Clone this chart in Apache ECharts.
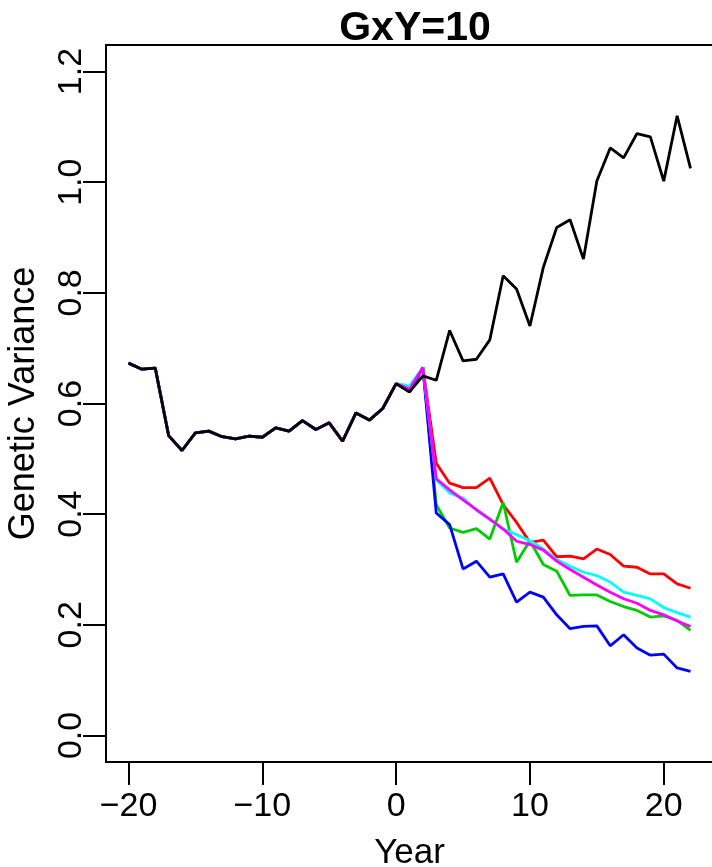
<!DOCTYPE html>
<html>
<head>
<meta charset="utf-8">
<script src="https://cdn.jsdelivr.net/npm/echarts@6/dist/echarts.min.js"></script>
<style>html,body{margin:0;padding:0;background:#fff}#c{width:712px;height:867px}</style>
</head>
<body>
<div id="c"></div>
<script>
const years = [-20,-19,-18,-17,-16,-15,-14,-13,-12,-11,-10,-9,-8,-7,-6,-5,-4,-3,-2,-1,0,1,2,3,4,5,6,7,8,9,10,11,12,13,14,15,16,17,18,19,20,21,22];
const pre = [0.673,0.662,0.664,0.542,0.515,0.547,0.550,0.540,0.536,0.541,0.539,0.556,0.550,0.569,0.553,0.565,0.532,0.583,0.570,0.591,0.636];
const blackPost = [0.621,0.650,0.642,0.732,0.677,0.680,0.715,0.831,0.807,0.740,0.846,0.918,0.932,0.861,1.002,1.062,1.044,1.088,1.082,1.002,1.120,1.025];
const redPost = [0.621,0.665,0.492,0.456,0.448,0.448,0.465,0.417,0.385,0.349,0.353,0.323,0.324,0.319,0.337,0.327,0.306,0.304,0.292,0.292,0.274,0.266];
const greenPost = [0.621,0.665,0.417,0.375,0.367,0.374,0.355,0.421,0.313,0.352,0.309,0.297,0.253,0.254,0.254,0.242,0.233,0.226,0.214,0.216,0.208,0.190];
const bluePost = [0.621,0.665,0.402,0.381,0.301,0.315,0.286,0.292,0.241,0.259,0.250,0.218,0.193,0.197,0.198,0.162,0.182,0.158,0.145,0.147,0.122,0.116];
const cyanPost = [0.632,0.665,0.462,0.438,0.429,0.407,0.390,0.373,0.363,0.352,0.337,0.318,0.306,0.295,0.289,0.277,0.259,0.253,0.247,0.231,0.222,0.214];
const magentaPost = [0.626,0.665,0.464,0.444,0.426,0.408,0.391,0.373,0.351,0.345,0.335,0.315,0.300,0.286,0.272,0.259,0.247,0.239,0.226,0.218,0.207,0.197];
const xTicks = [-20,-10,0,10,20];
const yTicks = [0,0.2,0.4,0.6,0.8,1.0,1.2];

function pairs(vals){ return years.map((y,i)=>[y, vals[i]]); }
const FONT = 'Liberation Sans, Arial, Helvetica, sans-serif';
const mk = (name, color, post, w) => ({
  type:'line', name, data: pairs(pre.concat(post)), symbol:'none',
  lineStyle:{color, width:w}, itemStyle:{color}, animation:false, z:2
});
const chart = echarts.init(document.getElementById('c'), null, {renderer:'canvas'});
chart.setOption({
  animation:false,
  backgroundColor:'#fff',
  title:{text:'GxY=10', left:410, top:3, textAlign:'center',
    textStyle:{fontFamily:FONT, fontWeight:'bold', fontSize:41, color:'#000'}},
  grid:{left:106, top:45, width:607, height:717, containLabel:false, outerBoundsMode:'none',
    show:true, borderColor:'#000', borderWidth:2, backgroundColor:'transparent'},
  xAxis:{type:'value', min:-21.68, max:23.68,
    name:'Year', nameLocation:'middle', nameGap:74,
    nameTextStyle:{fontFamily:FONT, fontSize:35, color:'#000'},
    axisLine:{show:false, onZero:false}, splitLine:{show:false},
    axisTick:{show:true, length:23, lineStyle:{color:'#000', width:2}, customValues:xTicks},
    axisLabel:{fontFamily:FONT, fontSize:34, color:'#000', margin:28, customValues:xTicks,
      formatter:v=>String(v).replace('-','\u2212')}},
  yAxis:{type:'value', min:-0.048, max:1.248,
    name:'Genetic Variance', nameLocation:'middle', nameGap:64, nameRotate:90,
    nameTextStyle:{fontFamily:FONT, fontSize:36, color:'#000'},
    axisLine:{show:false, onZero:false}, splitLine:{show:false},
    axisTick:{show:true, length:23, lineStyle:{color:'#000', width:2}, customValues:yTicks},
    axisLabel:{fontFamily:FONT, fontSize:34, color:'#000', margin:17, rotate:90, customValues:yTicks,
      formatter:v=>v.toFixed(1)}},
  series:[
    mk('red','#ff0000',redPost,2.8),
    mk('green','#00cd00',greenPost,2.8),
    mk('blue','#0000ff',bluePost,2.8),
    mk('cyan','#00ffff',cyanPost,2.8),
    mk('magenta','#ff00ff',magentaPost,2.8),
    {type:'line', name:'black', data: pairs(pre.concat(blackPost)), symbol:'none',
      lineStyle:{color:'#000', width:2.8}, animation:false, z:3}
  ]
});
</script>
</body>
</html>
